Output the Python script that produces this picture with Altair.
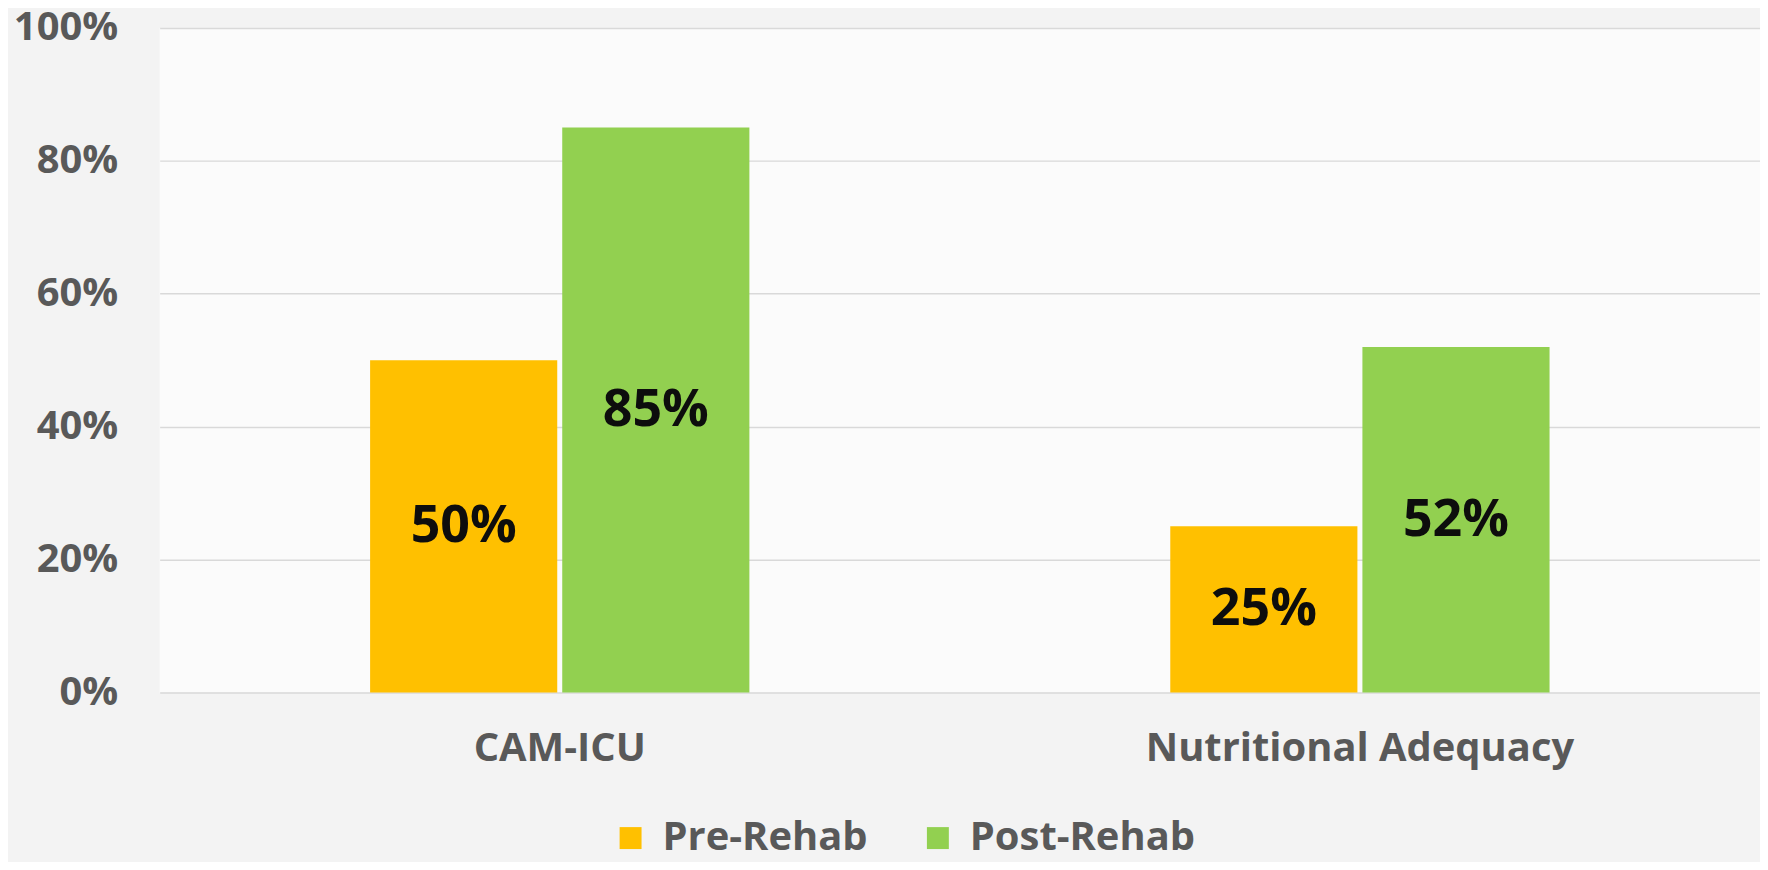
import altair as alt
import pandas as pd

categories = ["CAM-ICU", "Nutritional Adequacy"]
series = ["Pre-Rehab", "Post-Rehab"]
pre_values = [0.50, 0.25]
post_values = [0.85, 0.52]
colors = ["#FFC000", "#92D050"]
y_ticks = [0, 0.2, 0.4, 0.6, 0.8, 1.0]

rows = []
for i, c in enumerate(categories):
    rows.append({"category": c, "series": series[0], "value": pre_values[i]})
    rows.append({"category": c, "series": series[1], "value": post_values[i]})
df = pd.DataFrame(rows)

FONT = "Open Sans"

base = alt.Chart(df).encode(
    x=alt.X(
        "category:N",
        sort=categories,
        scale=alt.Scale(paddingInner=0.526, paddingOuter=0.263),
        axis=alt.Axis(
            title=None,
            labelAngle=0,
            labelFont=FONT,
            labelFontSize=40,
            labelFontWeight="bold",
            labelColor="#595959",
            labelPadding=36,
            labelLimit=800,
            ticks=False,
            domain=False,
        ),
    ),
    xOffset=alt.XOffset("series:N", sort=series, scale=alt.Scale(paddingInner=0.026)),
)

bars = base.mark_bar().encode(
    y=alt.Y(
        "value:Q",
        scale=alt.Scale(domain=[0, 1], nice=False, zero=True),
        axis=alt.Axis(
            title=None,
            values=y_ticks,
            format=".0%",
            labelFont=FONT,
            labelFontSize=40,
            labelFontWeight="bold",
            labelColor="#595959",
            labelPadding=42,
            ticks=False,
            domain=False,
            grid=True,
            gridColor="#d9d9d9",
            gridWidth=1.5,
        ),
    ),
    color=alt.Color(
        "series:N",
        sort=series,
        scale=alt.Scale(domain=series, range=colors),
        legend=alt.Legend(
            title=None,
            orient="none",
            direction="horizontal",
            legendX=452,
            legendY=792,
            symbolType="square",
            symbolSize=484,
            symbolStrokeWidth=0,
            symbolOpacity=1,
            labelFont=FONT,
            labelFontSize=40,
            labelFontWeight="bold",
            labelColor="#595959",
            labelOffset=12,
            labelLimit=500,
            columnPadding=50,
            padding=0,
        ),
    ),
)

labels = base.transform_calculate(mid="datum.value / 2").mark_text(
    font=FONT,
    fontSize=52,
    fontWeight="bold",
    color="#0d0d0d",
    baseline="middle",
    align="center",
).encode(
    y=alt.Y("mid:Q", title=None),
    text=alt.Text("value:Q", format=".0%"),
)

chart = (
    alt.layer(bars, labels)
    .properties(
        width=1604,
        height=666,
        autosize=alt.AutoSizeParams(type="none"),
        padding={"left": 152, "top": 19, "right": 0, "bottom": 169},
        background="#f3f3f3",
    )
    .configure_view(stroke=None, fill="#fbfbfb")
)

chart.save("out.html", embed_options={"renderer": "svg", "actions": False})
